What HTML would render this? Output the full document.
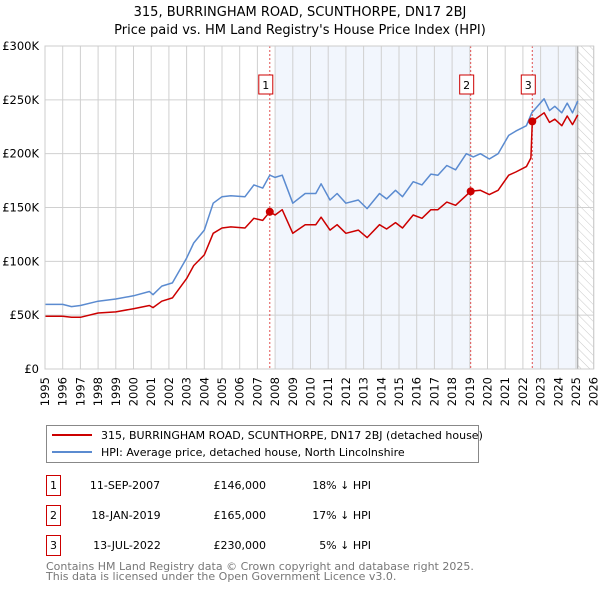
<!DOCTYPE html>
<html><head><meta charset="utf-8">
<style>
body{margin:0;background:#fff;width:600px;height:590px;overflow:hidden;font-family:"DejaVu Sans","Liberation Sans",sans-serif;}
svg{display:block}
</style></head>
<body>
<svg id="chart" width="600" height="590" viewBox="0 0 600 590" xmlns="http://www.w3.org/2000/svg" font-family="DejaVu Sans, Liberation Sans, sans-serif">
<defs>
<pattern id="hatch" width="6" height="6" patternUnits="userSpaceOnUse" patternTransform="rotate(-45)">
<line x1="0" y1="0" x2="0" y2="6" stroke="#bbb" stroke-width="0.8"/>
</pattern>
</defs>
<text x="300" y="16" text-anchor="middle" font-size="13" fill="#000">315, BURRINGHAM ROAD, SCUNTHORPE, DN17 2BJ</text>
<text x="300" y="34" text-anchor="middle" font-size="13" fill="#000">Price paid vs. HM Land Registry's House Price Index (HPI)</text>
<g id="plot"></g>
<g>
<rect x="46.5" y="425.5" width="432" height="37" fill="#fff" stroke="#888"/>
<line x1="52" y1="435" x2="92" y2="435" stroke="#cc0000" stroke-width="2"/>
<text x="101" y="439" font-size="11">315, BURRINGHAM ROAD, SCUNTHORPE, DN17 2BJ (detached house)</text>
<line x1="52" y1="452" x2="92" y2="452" stroke="#5b8bd0" stroke-width="2"/>
<text x="101" y="456" font-size="11">HPI: Average price, detached house, North Lincolnshire</text>
</g>
<g font-size="11">
<rect x="46.5" y="475.5" width="14" height="20" fill="#fff" stroke="#cc0000"/><text x="53.5" y="489" text-anchor="middle">1</text>
<text x="125" y="489" text-anchor="middle">11-SEP-2007</text><text x="266" y="489" text-anchor="end">£146,000</text><text x="371" y="489" text-anchor="end">18% ↓ HPI</text>
<rect x="46.5" y="505.5" width="14" height="20" fill="#fff" stroke="#cc0000"/><text x="53.5" y="519" text-anchor="middle">2</text>
<text x="126" y="519" text-anchor="middle">18-JAN-2019</text><text x="266" y="519" text-anchor="end">£165,000</text><text x="371" y="519" text-anchor="end">17% ↓ HPI</text>
<rect x="46.5" y="535.5" width="14" height="20" fill="#fff" stroke="#cc0000"/><text x="53.5" y="549" text-anchor="middle">3</text>
<text x="127" y="549" text-anchor="middle">13-JUL-2022</text><text x="266" y="549" text-anchor="end">£230,000</text><text x="371" y="549" text-anchor="end">5% ↓ HPI</text>
</g>
<text x="46" y="570" font-size="11" fill="#777">Contains HM Land Registry data © Crown copyright and database right 2025.</text>
<text x="46" y="580" font-size="11" fill="#777">This data is licensed under the Open Government Licence v3.0.</text>
</svg>
<script>
const hpiYears=[1995.0,1996.0,1996.5,1997.0,1998,1999,2000,2000.9,2001.1,2001.6,2002.2,2003.0,2003.4,2004.0,2004.5,2005,2005.5,2006.3,2006.8,2007.3,2007.7,2008.0,2008.4,2009.0,2009.7,2010.3,2010.6,2011.1,2011.5,2012,2012.7,2013.2,2013.9,2014.3,2014.8,2015.2,2015.8,2016.3,2016.8,2017.2,2017.7,2018.2,2018.8,2019.2,2019.6,2020.1,2020.6,2021.2,2021.6,2022.2,2022.5,2023.2,2023.5,2023.8,2024.2,2024.5,2024.8,2025.1];
const hpiValues=[60,60,58,59,63,65,68,72,69,77,80,103,117,129,154,160,161,160,171,168,180,178,180,154,163,163,172,157,163,154,157,149,163,158,166,160,174,171,181,180,189,185,200,197,200,195,200,217,221,226,238,251,240,244,238,247,238,249];
const priceYears=[1995,1996,1996.5,1997,1998,1999,2000,2000.9,2001.1,2001.6,2002.2,2003,2003.4,2004,2004.5,2005,2005.5,2006.3,2006.8,2007.3,2007.7,2008.0,2008.4,2009,2009.7,2010.3,2010.6,2011.1,2011.5,2012,2012.7,2013.2,2013.9,2014.3,2014.8,2015.2,2015.8,2016.3,2016.8,2017.2,2017.7,2018.2,2019.05,2019.6,2020.1,2020.6,2021.2,2021.6,2022.2,2022.45,2022.53,2023.2,2023.5,2023.8,2024.2,2024.5,2024.8,2025.1];
const priceValues=[49,49,48,48,52,53,56,59,57,63,66,84,96,106,126,131,132,131,140,138,146,143,148,126,134,134,141,129,134,126,129,122,134,130,136,131,143,140,148,148,155,152,165,166,162,166,180,183,188,196,230,238,229,232,226,235,227,236];
const saleYears=[2007.7,2019.05,2022.53];
const saleValues=[146,165,230];
const saleLabels=["1","2","3"];
const yTickValues=[0,50,100,150,200,250,300];
const yTickLabels=["£0","£50K","£100K","£150K","£200K","£250K","£300K"];
const xTickYears=[];for(let y=1995;y<=2026;y++)xTickYears.push(y);

const NS="http://www.w3.org/2000/svg";
const L=45,R=593.7,T=46,B=369,Y0=1995,Y1=2026,VMAX=300;
function xs(y){return L+(y-Y0)/(Y1-Y0)*(R-L);}
function ys(v){return B-v/VMAX*(B-T);}
const g=document.getElementById('plot');
function mk(tag,attrs,parent){const e=document.createElementNS(NS,tag);for(const k in attrs)e.setAttribute(k,attrs[k]);(parent||g).appendChild(e);return e;}

// shaded ownership periods
let r;
r=mk('rect',{x:xs(2008.0),y:T,width:xs(2019.05)-xs(2008.0),height:B-T,fill:'#eef3fc',opacity:0.75});


r=mk('rect',{x:xs(saleYears[2]),y:T,width:xs(2025.1)-xs(saleYears[2]),height:B-T,fill:'#eef3fc',opacity:0.75});


r=mk('rect',{x:xs(2025.1),y:T,width:R-xs(2025.1),height:B-T,fill:'url(#hatch)'});



// grid
xTickYears.forEach(y=>{
 const l=mk('line',{x1:xs(y),x2:xs(y),y1:T,y2:B,stroke:'#d0d0d0','stroke-width':1});
 
 
 const t=mk('text',{x:0,y:0,'font-size':11.5,'text-anchor':'end',transform:`translate(${xs(y)+4},${B+8}) rotate(-90)`});
 
 
 t.textContent=y;
});
yTickValues.forEach((v,i)=>{
 const l=mk('line',{x1:L,x2:R,y1:ys(v),y2:ys(v),stroke:'#d0d0d0','stroke-width':1});
 
 
 const t=mk('text',{x:L-6,y:ys(v)+4,'font-size':11.5,'text-anchor':'end'});
 
 
 t.textContent=yTickLabels[i];
});
const end=mk('line',{x1:xs(2025.1),x2:xs(2025.1),y1:T,y2:B,stroke:'#999','stroke-width':1});



// sale vertical lines and labels
saleYears.forEach((y,i)=>{
 const l=mk('line',{x1:xs(y),x2:xs(y),y1:T,y2:B,stroke:'#e05050','stroke-width':1,'stroke-dasharray':'2,2'});
 
 
 const b=mk('rect',{x:xs(y)-11,y:75,width:14,height:19,fill:'#fff',stroke:'#cc0000'});
 
 
 const t=mk('text',{x:xs(y)-4,y:89,'font-size':11,'text-anchor':'middle'});
 
 
 t.textContent=saleLabels[i];
});

function path(xsArr,vals){return xsArr.map((y,i)=>(i?'L':'M')+xs(y).toFixed(1)+','+ys(vals[i]).toFixed(1)).join('');}
const hp=mk('path',{d:path(hpiYears,hpiValues),fill:'none',stroke:'#5b8bd0','stroke-width':1.5,'stroke-linejoin':'round'});


const pp=mk('path',{d:path(priceYears,priceValues),fill:'none',stroke:'#cc0000','stroke-width':1.5,'stroke-linejoin':'round'});


saleYears.forEach((y,i)=>{
 const c=mk('circle',{cx:xs(y),cy:ys(saleValues[i]),r:4,fill:'#cc0000'});
 
 
});
const ax=mk('rect',{x:L,y:T,width:R-L,height:B-T,fill:'none',stroke:'#ccc'});


</script>
</body></html>
